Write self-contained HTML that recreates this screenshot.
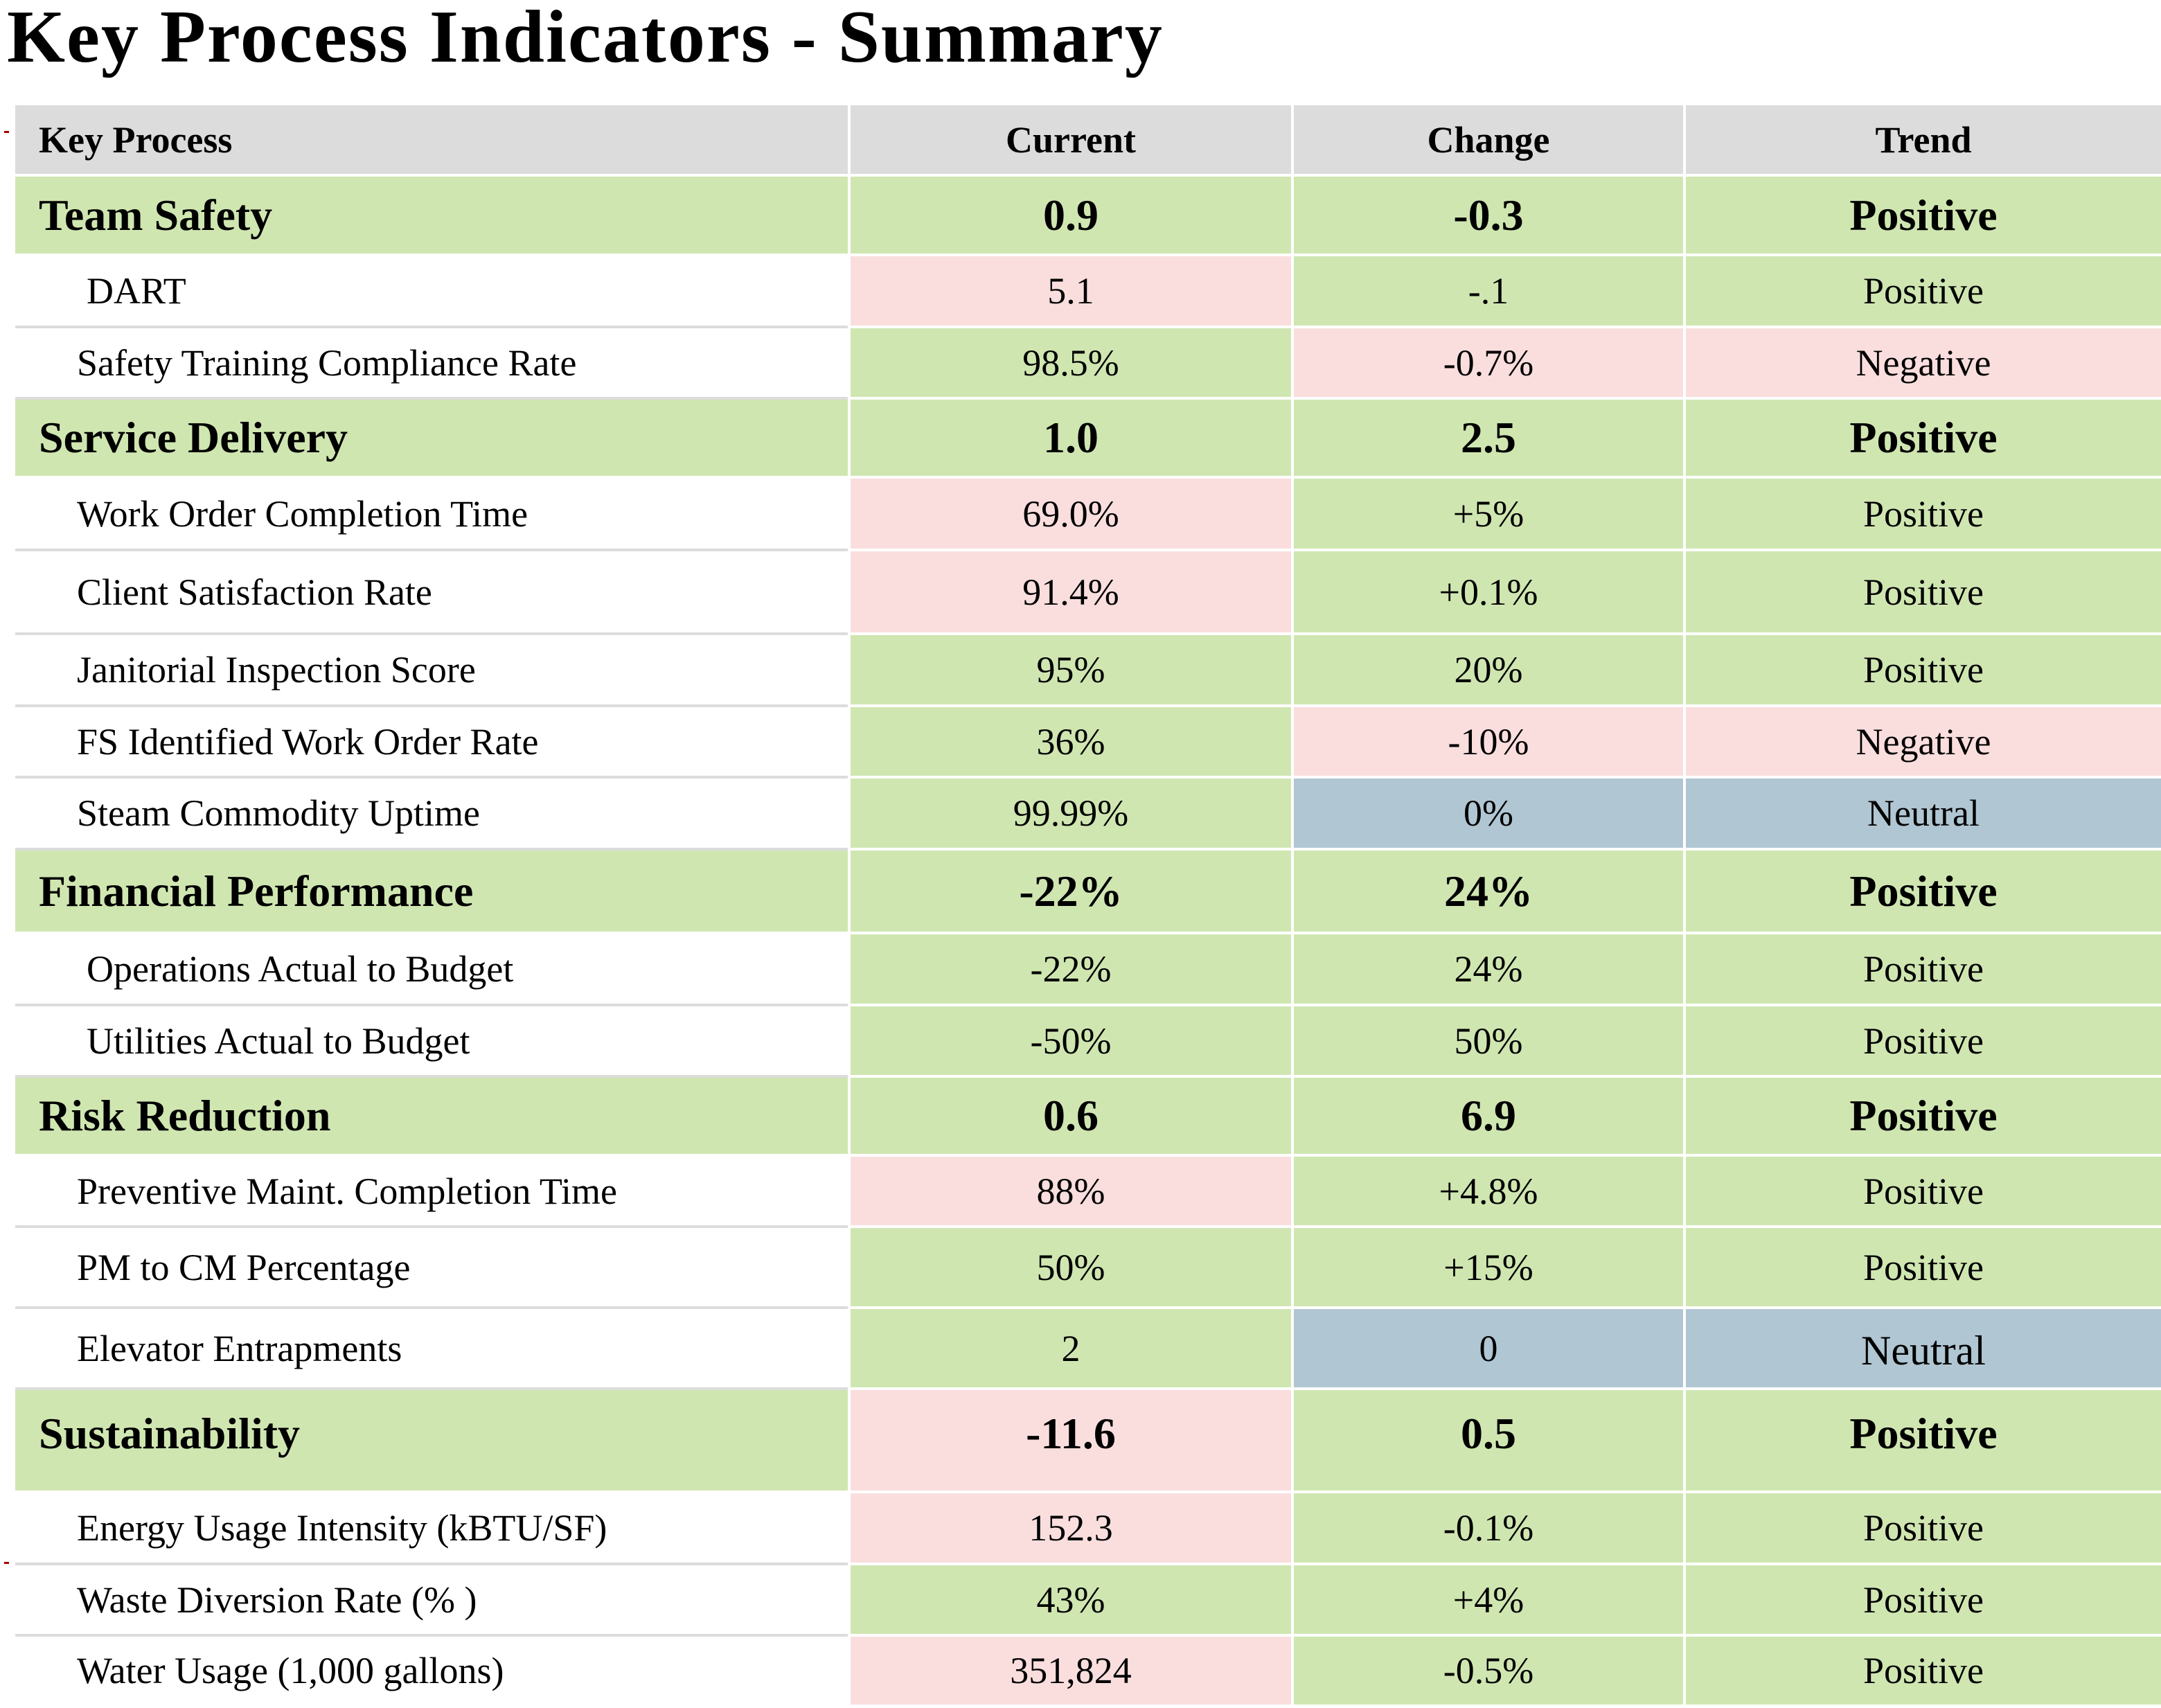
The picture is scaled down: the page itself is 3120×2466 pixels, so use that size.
<!DOCTYPE html>
<html><head><meta charset="utf-8"><style>
body{margin:0;width:3120px;height:2466px;background:#fff;position:relative;overflow:hidden;font-family:"Liberation Serif",serif;color:#000}
.t{position:absolute;left:10px;top:-8px;font-size:108px;letter-spacing:2px;font-weight:bold;white-space:nowrap}
.grid{position:absolute;left:22px;top:152px;display:grid;grid-template-columns:1202px 636px 562px 686px;grid-template-rows:99px 111px 100px 99px 110px 101px 117px 100px 99px 100px 117px 100px 99px 110px 99px 113px 113px 145px 100px 99px 98px;gap:4px}
.grid div{display:flex;align-items:center;justify-content:center;font-size:54px;position:relative;white-space:nowrap}
.grid div.l{justify-content:flex-start;padding-left:89px}
.grid div.l2{padding-left:103px}
.grid div.s{justify-content:flex-start;padding-left:34px;font-weight:bold;font-size:64px}
.grid div.sb{font-weight:bold;font-size:64px}
.h{background:#dcdcdc;font-weight:bold}
.grid div.hl{justify-content:flex-start;padding-left:34px;font-size:54px}
.g{background:#d0e6b1}.p{background:#fadede}.b{background:#b0c6d2}.w{background:#fff}
.w::after{content:"";position:absolute;left:0;right:0;bottom:-4px;height:4px;background:#dcdcdc}
.grid div.last::after{display:none}
.m{position:absolute;left:6px;width:7px;height:3px;background:#a00}
</style></head><body>
<div class="t">Key Process Indicators - Summary</div>
<div class="m" style="top:189px"></div><div class="m" style="top:2255px"></div>
<div class="grid">
<div class="h hl">Key Process</div><div class="h">Current</div><div class="h">Change</div><div class="h">Trend</div>
<div class="g s">Team Safety</div><div class="g sb">0.9</div><div class="g sb">-0.3</div><div class="g sb">Positive</div>
<div class="w l l2">DART</div><div class="p">5.1</div><div class="g">-.1</div><div class="g">Positive</div>
<div class="w l">Safety Training Compliance Rate</div><div class="g">98.5%</div><div class="p">-0.7%</div><div class="p">Negative</div>
<div class="g s">Service Delivery</div><div class="g sb">1.0</div><div class="g sb">2.5</div><div class="g sb">Positive</div>
<div class="w l">Work Order Completion Time</div><div class="p">69.0%</div><div class="g">+5%</div><div class="g">Positive</div>
<div class="w l">Client Satisfaction Rate</div><div class="p">91.4%</div><div class="g">+0.1%</div><div class="g">Positive</div>
<div class="w l">Janitorial Inspection Score</div><div class="g">95%</div><div class="g">20%</div><div class="g">Positive</div>
<div class="w l">FS Identified Work Order Rate</div><div class="g">36%</div><div class="p">-10%</div><div class="p">Negative</div>
<div class="w l">Steam Commodity Uptime</div><div class="g">99.99%</div><div class="b">0%</div><div class="b">Neutral</div>
<div class="g s">Financial Performance</div><div class="g sb">-22%</div><div class="g sb">24%</div><div class="g sb">Positive</div>
<div class="w l l2">Operations Actual to Budget</div><div class="g">-22%</div><div class="g">24%</div><div class="g">Positive</div>
<div class="w l l2">Utilities Actual to Budget</div><div class="g">-50%</div><div class="g">50%</div><div class="g">Positive</div>
<div class="g s">Risk Reduction</div><div class="g sb">0.6</div><div class="g sb">6.9</div><div class="g sb">Positive</div>
<div class="w l">Preventive Maint. Completion Time</div><div class="p">88%</div><div class="g">+4.8%</div><div class="g">Positive</div>
<div class="w l">PM to CM Percentage</div><div class="g">50%</div><div class="g">+15%</div><div class="g">Positive</div>
<div class="w l">Elevator Entrapments</div><div class="g">2</div><div class="b">0</div><div class="b" style="font-size:60px;padding-top:8px">Neutral</div>
<div class="g s" style="padding-bottom:20px">Sustainability</div><div class="p sb" style="padding-bottom:20px">-11.6</div><div class="g sb" style="padding-bottom:20px">0.5</div><div class="g sb" style="padding-bottom:20px">Positive</div>
<div class="w l">Energy Usage Intensity (kBTU/SF)</div><div class="p">152.3</div><div class="g">-0.1%</div><div class="g">Positive</div>
<div class="w l">Waste Diversion Rate (% )</div><div class="g">43%</div><div class="g">+4%</div><div class="g">Positive</div>
<div class="w l last">Water Usage (1,000 gallons)</div><div class="p">351,824</div><div class="g">-0.5%</div><div class="g">Positive</div>
</div>
</body></html>
